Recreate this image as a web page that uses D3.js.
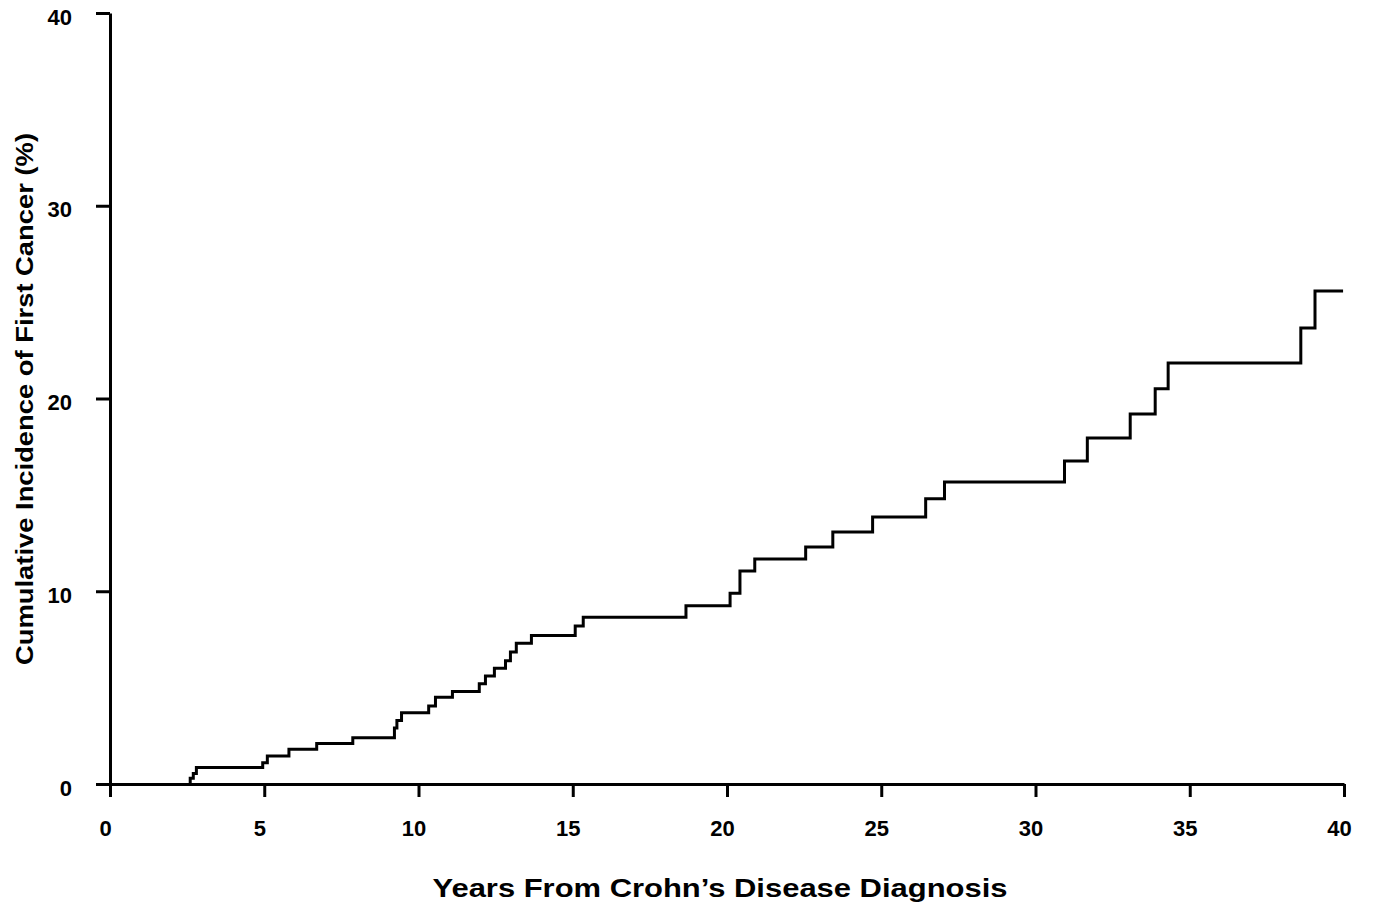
<!DOCTYPE html>
<html>
<head>
<meta charset="utf-8">
<script src="https://cdn.jsdelivr.net/npm/d3@7"></script>
<style>
  body { margin: 0; background: #fff; }
  svg text { font-family: "Liberation Sans", Arial, sans-serif; font-weight: bold; fill: #000; }
</style>
</head>
<body>
<svg id="chart" width="1374" height="916"></svg>
<script>
// step curve: years since diagnosis, cumulative incidence (%)
const years = [2.56, 2.6, 2.7, 2.8, 4.95, 5.1, 5.8, 6.7, 7.87, 9.22, 9.3, 9.45, 10.33, 10.55, 11.1,
               11.97, 12.17, 12.46, 12.82, 12.98, 13.17, 13.66, 15.08, 15.34, 18.67, 20.1, 20.42,
               20.9, 22.55, 23.43, 24.72, 26.44, 27.05, 30.94, 31.68, 33.07, 33.88, 34.3, 38.6,
               39.06, 39.97];
const incidence = [0, 0.3, 0.55, 0.85, 1.1, 1.45, 1.8, 2.1, 2.4, 2.9, 3.3, 3.7, 4.05, 4.5, 4.8,
                   5.2, 5.6, 6.0, 6.4, 6.85, 7.3, 7.7, 8.2, 8.65, 9.25, 9.9, 11.05,
                   11.67, 12.3, 13.07, 13.85, 14.8, 15.67, 16.76, 17.95, 19.2, 20.5, 21.84, 23.66,
                   25.58, 25.58];
const xTicks = [0, 5, 10, 15, 20, 25, 30, 35, 40];
const yTicks = [0, 10, 20, 30, 40];

const svg = d3.select("#chart");
const margin = {top: 13, left: 110, right: 30, bottom: 132};
const plotWidth = 1344 - margin.left;
const plotHeight = 784 - margin.top;

const xScale = d3.scaleLinear().domain([0, 40]).range([0, plotWidth]);
const yScale = d3.scaleLinear().domain([0, 40]).range([plotHeight, 0]);

const plot = svg.append("g")
    .attr("transform", `translate(${margin.left}, ${margin.top})`);

// axes
const xAxis = plot.append("g")
    .attr("transform", `translate(0, ${plotHeight})`)
    .call(d3.axisBottom(xScale)
        .tickValues(xTicks)
        .tickSize(13)
        .tickSizeOuter(0)
        .tickPadding(23));

const yAxis = plot.append("g")
    .call(d3.axisLeft(yScale)
        .tickValues(yTicks)
        .tickSize(14)
        .tickSizeOuter(0)
        .tickPadding(24));

[xAxis, yAxis].forEach(ax => {
    ax.select(".domain").attr("stroke", "#000").attr("stroke-width", 3);
    ax.selectAll(".tick line").attr("stroke", "#000").attr("stroke-width", 3);
    ax.selectAll(".tick text")
        .style("font-family", "'Liberation Sans', Arial, sans-serif")
        .style("font-weight", "bold")
        .style("font-size", "22px")
        .attr("fill", "#000");
});
// labels in the source sit a little left of / below their ticks
xAxis.selectAll(".tick text").attr("dx", -5);
yAxis.selectAll(".tick text").attr("dy", "0.5em");

// step line
const pts = years.map((t, i) => [t, incidence[i]]);
const line = d3.line()
    .x(d => xScale(d[0]))
    .y(d => yScale(d[1]))
    .curve(d3.curveStepAfter);

plot.append("path")
    .datum(pts)
    .attr("d", line)
    .attr("fill", "none")
    .attr("stroke", "#000")
    .attr("stroke-width", 3);

// axis titles
svg.append("text")
    .attr("x", 720)
    .attr("y", 897)
    .attr("text-anchor", "middle")
    .attr("textLength", 575)
    .attr("lengthAdjust", "spacingAndGlyphs")
    .style("font-size", "25px")
    .text("Years From Crohn\u2019s Disease Diagnosis");

svg.append("text")
    .attr("transform", "translate(33, 399) rotate(-90)")
    .attr("text-anchor", "middle")
    .attr("textLength", 532)
    .attr("lengthAdjust", "spacingAndGlyphs")
    .style("font-size", "24px")
    .text("Cumulative Incidence of First Cancer (%)");
</script>
</body>
</html>
